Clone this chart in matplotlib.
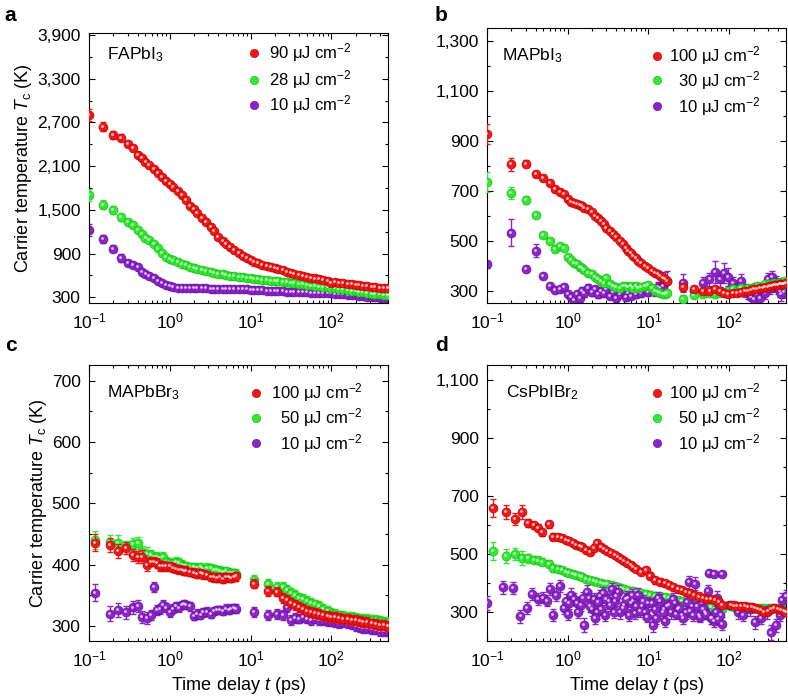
import matplotlib
matplotlib.use('Agg')
import matplotlib.pyplot as plt
import matplotlib.transforms as mtransforms
from matplotlib.ticker import FuncFormatter, AutoMinorLocator, LogLocator, NullFormatter

plt.rcParams['font.family'] = ['Liberation Sans', 'DejaVu Sans']
plt.rcParams['mathtext.fontset'] = 'custom'
plt.rcParams['mathtext.rm'] = 'Liberation Sans'
plt.rcParams['mathtext.it'] = 'Liberation Sans:italic'
plt.rcParams['mathtext.bf'] = 'Liberation Sans:bold'

# ---------------- panel a : FAPbI3 ----------------
t_a = [0.1, 0.15, 0.2, 0.25, 0.3, 0.35, 0.4, 0.45, 0.5,
       0.56, 0.63, 0.71, 0.8, 0.9,
       1.0, 1.1, 1.25, 1.4, 1.6, 1.8,
       2.0, 2.2, 2.5, 2.8, 3.2, 3.5,
       4.0, 4.5, 5.0, 5.6, 6.3, 7.1,
       8.0, 9.0, 10, 11, 12.5, 14,
       16, 18, 20, 22, 25, 28,
       32, 35, 40, 45, 50, 56,
       63, 71, 80, 90, 100, 110,
       125, 140, 160, 180, 200, 220,
       250, 280, 320, 350, 400, 450, 500]
fa_90 = [2800, 2640, 2530, 2490, 2400, 2350, 2260, 2210, 2160,
         2110, 2060, 2010, 1950, 1900,
         1850, 1810, 1760, 1700, 1630, 1560,
         1510, 1460, 1390, 1330, 1260, 1210,
         1130, 1075, 1035, 990, 950, 905,
         870, 840, 812, 790, 768, 748,
         728, 712, 698, 685, 668, 652,
         636, 625, 610, 596, 583, 570,
         558, 547, 536, 524, 498, 508,
         500, 493, 486, 478, 472, 466,
         459, 452, 445, 440, 434, 428, 422]
fa_28 = [1700, 1570, 1500, 1400, 1340, 1290, 1220, 1170, 1120,
         1080, 1030, 970, 905, 855,
         825, 805, 778, 758, 738, 720,
         705, 692, 676, 662, 648, 638,
         625, 614, 606, 598, 590, 582,
         574, 567, 561, 555, 548, 542,
         536, 530, 524, 518, 511, 504,
         497, 491, 483, 476, 469, 462,
         455, 448, 442, 436, 422, 426,
         417, 408, 398, 389, 381, 374,
         366, 359, 351, 346, 339, 333, 328]
fa_10 = [1220, 1100, 965, 840, 770, 745, 715, 650, 620,
         590, 560, 525, 492, 468,
         452, 442, 434, 429, 426, 425,
         424, 423, 422, 421, 420, 419,
         418, 417, 416, 415, 414, 412,
         410, 408, 405, 402, 398, 395,
         391, 388, 385, 382, 380, 377,
         375, 372, 370, 368, 366, 364,
         362, 360, 357, 354, 362, 350,
         345, 340, 335, 330, 325, 320,
         315, 310, 305, 300, 295, 290, 285]
err_a = [80, 60, 50, 50, 40, 35, 35, 30, 30,
         30, 30, 30, 30, 30,
         28, 28, 28, 28, 26, 26,
         26, 26, 25, 25, 25, 25,
         24, 24, 24, 24, 22, 22,
         22, 22, 22, 22, 20, 20,
         20, 20, 20, 20, 20, 20,
         20, 20, 20, 20, 20, 20,
         20, 20, 20, 20, 20, 20,
         20, 20, 20, 20, 20, 20,
         20, 20, 20, 20, 20, 20, 20]

# ---------------- panel b : MAPbI3 ----------------
t_b = [0.1, 0.2, 0.3, 0.4, 0.5, 0.6, 0.7, 0.8, 0.9,
       1.0, 1.1, 1.2, 1.3, 1.4, 1.5, 1.6, 1.8,
       2.0, 2.2, 2.4, 2.6, 2.8, 3.0, 3.3, 3.6,
       4.0, 4.4, 4.8, 5.2, 5.6, 6.0, 6.5, 7.0,
       7.5, 8.0, 9.0, 10, 11, 12, 13, 14,
       15, 16, 17,
       27, 37, 47, 57, 67, 77, 87, 97,
       110, 125, 140, 155, 170, 185, 200, 220,
       240, 260, 280, 300, 320, 340, 360, 380,
       400, 420, 440, 460, 480, 500]
ma_100 = [925, 805, 808, 765, 752, 732, 705, 695, 685,
          665, 655, 650, 645, 642, 638, 630, 625,
          615, 600, 590, 578, 565, 552, 540, 528,
          515, 500, 485, 472, 460, 450, 440, 432,
          420, 410, 400, 390, 380, 372, 365, 358,
          352, 345, 340,
          315, 308, 300, 300, 305, 300, 290, 288,
          290, 292, 295, 298, 300, 302, 305, 308,
          310, 312, 314, 316, 318, 320, 321, 322,
          324, 325, 326, 328, 328, 330]
ma_30 = [735, 690, 662, 602, 522, 500, 468, 478, 472,
         435, 422, 410, 405, 396, 390, 382, 372,
         365, 356, 348, 340, 332, 350, 326, 318,
         315, 312, 318, 320, 315, 318, 310, 318,
         312, 315, 318, 322, 310, 300, 295, 290,
         288, 285, 290,
         268, 282, 285, 290, 285, 292, 295, 300,
         305, 300, 310, 305, 312, 308, 315, 318,
         312, 320, 325, 318, 328, 322, 330, 325,
         332, 328, 335, 330, 338, 332]
ma_10 = [405, 532, 386, 460, 360, 320, 302, 305, 315,
         288, 275, 262, 285, 270, 300, 290, 310,
         295, 305, 285, 300, 290, 305, 280, 295,
         270, 285, 300, 275, 290, 280, 295, 285,
         300, 290, 310, 295, 305, 300, 315, 310,
         320, 335, 340,
         330, 300, 330, 345, 375, 345, 370, 355,
         330, 310, 340, 300, 290, 275, 265, 285,
         270, 300, 290, 345, 310, 355, 320, 335,
         310, 300, 285, 310, 295, 305]
err_b = [40, 25, 15, 12, 10, 10, 10, 10, 10,
         8, 8, 8, 8, 8, 8, 8, 8,
         8, 8, 8, 8, 8, 8, 8, 8,
         8, 8, 8, 8, 8, 8, 8, 8,
         8, 8, 8, 8, 8, 8, 8, 8,
         10, 10, 10,
         15, 12, 12, 12, 12, 12, 12, 12,
         12, 12, 12, 12, 12, 12, 12, 12,
         12, 12, 12, 12, 12, 12, 12, 12,
         12, 12, 12, 12, 12, 12]
err_b10 = [15, 55, 12, 25, 10, 10, 10, 10, 10,
           12, 15, 15, 15, 15, 15, 15, 15,
           15, 15, 15, 15, 15, 15, 15, 15,
           15, 15, 15, 15, 15, 15, 15, 15,
           15, 15, 15, 15, 15, 20, 20, 25,
           30, 40, 40,
           35, 20, 25, 25, 45, 30, 40, 35,
           25, 25, 25, 25, 25, 25, 25, 25,
           25, 25, 25, 25, 25, 25, 25, 25,
           25, 25, 25, 25, 25, 25]

# ---------------- panel c : MAPbBr3 ----------------
t_c = [0.12, 0.18, 0.23, 0.29, 0.35, 0.4, 0.45, 0.52, 0.58, 0.63,
       0.7, 0.76, 0.82, 0.9, 1.0, 1.1, 1.2, 1.3, 1.4, 1.5,
       1.6, 1.8, 2.0, 2.2, 2.4, 2.6, 2.9, 3.2, 3.5, 3.8,
       4.2, 4.6, 5.0, 5.4, 5.8, 6.2, 6.6,
       11, 16.5, 21, 25, 28, 32, 36, 40, 45, 50,
       56, 63, 71, 80, 90, 100, 112, 125, 140, 160,
       180, 200, 225, 250, 280, 320, 360, 400, 450, 500]
mb_100 = [436, 432, 422, 427, 416, 412, 413, 400, 405, 405,
          402, 398, 398, 397, 397, 395, 393, 392, 391, 390,
          390, 388, 387, 385, 386, 384, 383, 380, 379, 378,
          380, 377, 380, 379, 378, 380, 381,
          369, 357, 356, 346, 342, 338, 334, 331, 328, 325,
          323, 321, 319, 317, 316, 315, 314, 313, 312, 311,
          310, 309, 308, 306, 306, 304, 303, 302, 301, 300]
mb_50 = [440, 437, 436, 428, 433, 435, 420, 418, 415, 413,
         412, 410, 412, 405, 402, 402, 405, 403, 400, 398,
         398, 396, 396, 394, 396, 393, 395, 394, 392, 391,
         390, 388, 389, 387, 386, 386, 385,
         375, 369, 364, 364, 358, 353, 350, 346, 344, 341,
         338, 335, 332, 328, 325, 321, 319, 317, 316, 315,
         314, 313, 312, 311, 311, 310, 309, 308, 307, 306]
mb_10 = [354, 320, 326, 322, 330, 332, 315, 313, 318, 364,
         326, 328, 334, 330, 322, 328, 332, 330, 334, 336,
         334, 332, 316, 320, 318, 322, 323, 320, 324, 326,
         326, 324, 328, 326, 328, 329, 328,
         323, 318, 320, 318, 331, 310, 313, 312, 315, 312,
         310, 312, 310, 309, 308, 308, 306, 305, 306, 304,
         303, 300, 298, 297, 297, 295, 294, 292, 292, 291]
err_c = [14, 12, 12, 10, 10, 10, 10, 10, 8, 8,
         8, 8, 8, 8, 8, 7, 7, 7, 7, 7,
         7, 7, 7, 7, 7, 7, 7, 7, 7, 7,
         7, 7, 7, 7, 7, 7, 7,
         8, 8, 8, 8, 8, 8, 8, 8, 8, 8,
         8, 8, 8, 8, 8, 8, 8, 8, 8, 8,
         8, 8, 8, 8, 8, 8, 8, 8, 8, 8]

# ---------------- panel d : CsPbIBr2 ----------------
t_d = [0.12, 0.17, 0.22, 0.27, 0.32, 0.38, 0.43, 0.48, 0.58, 0.65,
       0.75, 0.85, 0.95, 1.05, 1.15, 1.25, 1.4, 1.5, 1.7, 1.9,
       2.1, 2.3, 2.6, 2.8, 3.1, 3.4, 3.8, 4.2, 4.6, 5.0,
       5.5, 6.0, 6.5, 7.0, 8.0, 9.2, 10.5, 12, 14, 16,
       18, 20, 23, 26, 29, 33, 37, 42, 47, 53,
       60, 67, 75, 82,
       105, 115, 125, 140, 155, 170, 190, 210, 230, 250,
       270, 300, 330, 360, 400, 440, 480, 500]
cs_100 = [659, 645, 621, 645, 607, 600, 590, 576, 603, 559,
          560, 555, 550, 545, 538, 531, 528, 524, 515, 507,
          520, 538, 525, 517, 510, 505, 498, 490, 482, 475,
          468, 462, 455, 450, 440, 445, 425, 410, 405, 400,
          392, 386, 380, 375, 368, 365, 360, 354, 350, 347,
          345, 342, 335, 325,
          324, 323, 322, 321, 320, 319, 318, 316, 312, 308,
          300, 305, 310, 315, 312, 308, 303, 300]
cs_50 = [510, 493, 500, 486, 486, 480, 478, 473, 466, 452,
         450, 445, 440, 435, 432, 428, 425, 420, 415, 410,
         407, 405, 402, 398, 396, 393, 390, 386, 383, 380,
         377, 374, 372, 370, 366, 362, 360, 357, 355, 352,
         348, 345, 342, 338, 335, 332, 328, 325, 322, 319,
         317, 314, 312, 310,
         320, 318, 316, 315, 314, 313, 312, 314, 315, 316,
         316, 315, 314, 313, 314, 315, 316, 315]
err_d = [32, 25, 20, 25, 15, 12, 12, 12, 12, 12,
         10, 10, 10, 10, 10, 10, 10, 10, 10, 10,
         10, 10, 10, 10, 10, 10, 10, 10, 10, 10,
         10, 10, 10, 10, 12, 12, 12, 12, 12, 12,
         10, 10, 10, 10, 10, 10, 10, 10, 10, 10,
         10, 10, 10, 10,
         10, 10, 10, 10, 10, 10, 10, 10, 10, 10,
         10, 10, 10, 10, 10, 10, 10, 10]
tp_d = [0.1, 0.16, 0.21, 0.26, 0.31, 0.36, 0.43, 0.5, 0.55, 0.6,
        0.66, 0.72, 0.8, 0.9, 0.95, 1.0, 1.1, 1.2, 1.3, 1.45,
        1.6, 1.75, 1.85, 2.0, 2.1, 2.3, 2.5, 2.7, 2.9, 3.2,
        3.5, 3.9, 4.2, 4.5, 5.0, 5.5, 6.0, 6.5, 6.8, 7.5,
        8.2, 9.0, 10, 11.4, 12.5, 14, 15.5, 17, 19, 21,
        23, 26, 29, 32, 35, 38, 42, 46, 50, 55,
        56, 60, 65, 65, 70, 75, 82, 82,
        100, 130, 150, 180, 210, 250, 290, 330, 380, 420, 450, 500,
        1.05, 1.35, 1.55, 1.9, 2.2, 2.4, 2.6, 3.0, 3.3, 3.7,
        4.0, 4.8, 5.2, 5.8, 6.2, 7.0, 7.8, 8.6, 9.5, 11,
        12, 13, 15, 16, 18, 20, 22, 24, 27, 30,
        33, 36, 40, 44, 48, 52, 62, 68, 72, 78]
cs_10 = [331, 386, 383, 286, 315, 362, 345, 350, 340, 380,
         290, 360, 390, 315, 340, 295, 360, 345, 330, 325,
         255, 370, 350, 310, 345, 300, 355, 365, 290, 340,
         380, 340, 370, 300, 325, 350, 330, 340, 297, 360,
         320, 300, 330, 255, 280, 340, 310, 320, 300, 330,
         310, 290, 300, 403, 320, 398, 290, 330, 300, 372,
         434, 280, 432, 270, 350, 320, 432, 260,
         324, 300, 290, 310, 265, 280, 300, 230, 255, 290, 343, 355,
         330, 300, 350, 320, 280, 335, 310, 345, 325, 300,
         355, 315, 345, 290, 360, 320, 305, 340, 285, 330,
         310, 350, 300, 270, 325, 345, 295, 315, 280, 335,
         305, 290, 320, 285, 310, 295, 280, 300, 275, 290]
err_d10 = [25, 22, 20, 22, 20, 20, 20, 20, 20, 20,
           22, 22, 22, 22, 22, 22, 22, 22, 22, 22,
           25, 22, 22, 22, 22, 22, 22, 22, 22, 22,
           22, 22, 22, 22, 22, 22, 22, 22, 22, 22,
           22, 22, 22, 25, 22, 22, 22, 22, 22, 22,
           22, 22, 22, 22, 22, 22, 22, 22, 22, 22,
           8, 22, 8, 22, 22, 22, 8, 22,
           10, 22, 22, 22, 22, 22, 22, 25, 22, 22, 22, 22,
           20, 20, 20, 20, 20, 20, 20, 20, 20, 20,
           20, 20, 20, 20, 20, 20, 20, 20, 20, 20,
           20, 20, 20, 20, 20, 20, 20, 20, 20, 20,
           20, 20, 20, 20, 20, 20, 20, 20, 20, 20]

RED, RED_D = '#f01818', '#a80000'
GRN, GRN_D = '#30ec30', '#16a816'
PUR, PUR_D = '#8c24c8', '#5a0e8c'

FS = 12.5
LFS = 12

fig = plt.figure(figsize=(7.88, 7.0), dpi=100)


def balls(ax, t, y, err, color, dark, z):
    ax.errorbar(t, y, yerr=err, fmt='none', ecolor=color, elinewidth=1.0,
                capsize=2.2, capthick=1.0, zorder=z)
    ax.plot(t, y, 'o', ms=6.5, mfc=color, mec=dark, mew=0.4, zorder=z + 0.1)
    hl = mtransforms.offset_copy(ax.transData, fig=fig, x=-0.7, y=0.7, units='points')
    ax.plot(t, y, 'o', ms=2.0, mfc='white', mec='none', alpha=0.75,
            transform=hl, zorder=z + 0.2)


def legend(ax, labels, mx, tx, ys):
    for (lab, c, d), y in zip(labels, ys):
        ax.plot([mx], [y], 'o', ms=6, mfc=c, mec=d, mew=0.4,
                transform=ax.transAxes, zorder=10)
        ax.text(tx, y, lab, transform=ax.transAxes, ha='right', va='center',
                fontsize=LFS, zorder=10)


def style(ax, ylim, yticks):
    ax.set_xscale('log')
    ax.set_xlim(0.1, 500)
    ax.set_ylim(*ylim)
    ax.set_yticks(yticks)
    ax.yaxis.set_minor_locator(AutoMinorLocator(2))
    ax.yaxis.set_major_formatter(FuncFormatter(lambda v, p: f'{v:,.0f}'))
    ax.xaxis.set_major_locator(LogLocator(base=10, numticks=10))
    ax.xaxis.set_minor_locator(LogLocator(base=10, subs=range(2, 10), numticks=10))
    ax.xaxis.set_minor_formatter(NullFormatter())
    ax.tick_params(which='both', direction='in', top=True, right=True,
                   labelsize=FS, width=0.8)
    ax.tick_params(which='major', length=4)
    ax.tick_params(axis='x', which='major', pad=6)
    ax.tick_params(axis='y', which='major', pad=6)
    ax.tick_params(which='minor', length=2.2)
    for s in ax.spines.values():
        s.set_linewidth(0.8)


ylab = 'Carrier temperature $\\mathit{T}_{\\mathrm{c}}$ (K)'
xlab = 'Time delay $\\mathit{t}$ (ps)'

# panel a
ax = fig.add_axes([0.113, 0.567, 0.379, 0.386])
balls(ax, t_a, fa_10, err_a, PUR, PUR_D, 2)
balls(ax, t_a, fa_28, err_a, GRN, GRN_D, 3)
balls(ax, t_a, fa_90, err_a, RED, RED_D, 4)
style(ax, (220, 3930), [300, 900, 1500, 2100, 2700, 3300, 3900])
ax.set_ylabel(ylab, fontsize=13, labelpad=2)
ax.text(0.06, 0.92, 'FAPbI$_3$', transform=ax.transAxes, fontsize=FS, va='center')
legend(ax, [('90 μJ cm$^{-2}$', RED, RED_D), ('28 μJ cm$^{-2}$', GRN, GRN_D),
            ('10 μJ cm$^{-2}$', PUR, PUR_D)], 0.552, 0.88, [0.926, 0.826, 0.733])
fig.text(0.006, 0.978, 'a', fontsize=15, fontweight='bold', va='center')

# panel b
ax = fig.add_axes([0.618, 0.567, 0.379, 0.393])
balls(ax, t_b, ma_10, err_b10, PUR, PUR_D, 2)
balls(ax, t_b, ma_30, err_b, GRN, GRN_D, 3)
balls(ax, t_b, ma_100, err_b, RED, RED_D, 4)
style(ax, (250, 1350), [300, 500, 700, 900, 1100, 1300])
ax.text(0.05, 0.90, 'MAPbI$_3$', transform=ax.transAxes, fontsize=FS, va='center')
legend(ax, [('100 μJ cm$^{-2}$', RED, RED_D), ('30 μJ cm$^{-2}$', GRN, GRN_D),
            ('10 μJ cm$^{-2}$', PUR, PUR_D)], 0.57, 0.917, [0.90, 0.81, 0.716])
fig.text(0.552, 0.978, 'b', fontsize=15, fontweight='bold', va='center')

# panel c
ax = fig.add_axes([0.113, 0.084, 0.379, 0.394])
balls(ax, t_c, mb_10, err_c, PUR, PUR_D, 2)
balls(ax, t_c, mb_50, err_c, GRN, GRN_D, 3)
balls(ax, t_c, mb_100, err_c, RED, RED_D, 4)
style(ax, (275, 725), [300, 400, 500, 600, 700])
ax.set_ylabel(ylab, fontsize=13, labelpad=2)
ax.set_xlabel(xlab, fontsize=13, labelpad=4)
ax.text(0.06, 0.90, 'MAPbBr$_3$', transform=ax.transAxes, fontsize=FS, va='center')
legend(ax, [('100 μJ cm$^{-2}$', RED, RED_D), ('50 μJ cm$^{-2}$', GRN, GRN_D),
            ('10 μJ cm$^{-2}$', PUR, PUR_D)], 0.56, 0.916, [0.90, 0.81, 0.717])
fig.text(0.006, 0.507, 'c', fontsize=15, fontweight='bold', va='center')

# panel d
ax = fig.add_axes([0.618, 0.084, 0.379, 0.394])
balls(ax, t_d, cs_50, err_d, GRN, GRN_D, 2)
balls(ax, tp_d, cs_10, err_d10, PUR, PUR_D, 3)
balls(ax, t_d, cs_100, err_d, RED, RED_D, 4)
style(ax, (200, 1150), [300, 500, 700, 900, 1100])
ax.set_xlabel(xlab, fontsize=13, labelpad=4)
ax.text(0.063, 0.90, 'CsPbIBr$_2$', transform=ax.transAxes, fontsize=FS, va='center')
legend(ax, [('100 μJ cm$^{-2}$', RED, RED_D), ('50 μJ cm$^{-2}$', GRN, GRN_D),
            ('10 μJ cm$^{-2}$', PUR, PUR_D)], 0.57, 0.917, [0.90, 0.81, 0.717])
fig.text(0.552, 0.507, 'd', fontsize=15, fontweight='bold', va='center')

fig.savefig('out.png', dpi=100)
